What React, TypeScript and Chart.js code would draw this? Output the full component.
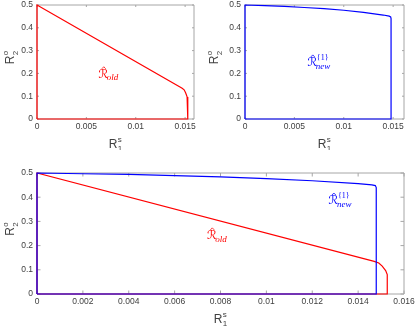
import React, { useEffect, useRef } from "react";
import { Chart, registerables } from "chart.js";
Chart.register(...registerables);

// ---- data ----
const oldX = [0, 0, 0.0147, 0.0149, 0.01505, 0.0152, 0.01527, 0.01527, 0];
const oldY = [0, 0.5, 0.135, 0.128, 0.115, 0.097, 0.08, 0, 0];
const newX = [0, 0, 0.002, 0.004, 0.006, 0.008, 0.01, 0.012, 0.014, 0.0146, 0.01475, 0.01479, 0.01479, 0];
const newY = [0, 0.5, 0.497, 0.494, 0.489, 0.484, 0.477, 0.468, 0.456, 0.451, 0.448, 0.44, 0, 0];

const yTicks = [0, 0.1, 0.2, 0.3, 0.4, 0.5];
const yTickLabels = ["0", "0.1", "0.2", "0.3", "0.4", "0.5"];
const xTicksTop = [0, 0.005, 0.01, 0.015];
const xTickLabelsTop = ["0", "0.005", "0.01", "0.015"];
const xTicksBottom = [0, 0.002, 0.004, 0.006, 0.008, 0.01, 0.012, 0.014, 0.016];
const xTickLabelsBottom = ["0", "0.002", "0.004", "0.006", "0.008", "0.01", "0.012", "0.014", "0.016"];

const RED = "#ff0000";
const BLUE = "#0000ff";
const AXIS = "#a6a6a6";
const TEXT = "#404040";
const SANS = '"Liberation Sans", Arial, Helvetica, sans-serif';

type Series = { xs: number[]; ys: number[]; color: string };
type Ann = { x: number; y: number; color: string; sub: string; sup?: string };

type PanelProps = {
  left: number; top: number; width: number; height: number;
  yAxisW: number; padTop: number; padRight: number; xAxisH: number;
  xMax: number; xTicks: number[]; xLabels: string[];
  series: Series[]; anns: Ann[]; tickLen: number; yTitleX: number;
};

function drawRTitle(ctx: CanvasRenderingContext2D, x: number, y: number, sub: string, sup: string) {
  ctx.font = `12px ${SANS}`;
  const wR = ctx.measureText("R").width;
  ctx.font = `8px ${SANS}`;
  const wS = Math.max(ctx.measureText(sub).width, ctx.measureText(sup).width);
  const total = wR + 0.5 + wS;
  const sx = x - total / 2;
  ctx.fillStyle = TEXT;
  ctx.textAlign = "left";
  ctx.textBaseline = "alphabetic";
  ctx.font = `12px ${SANS}`;
  ctx.fillText("R", sx, y);
  ctx.font = `8px ${SANS}`;
  ctx.fillText(sup, sx + wR + 0.5, y - 6);
  ctx.fillText(sub, sx + wR + 0.5, y + 3.5);
}

function drawAnn(ctx: CanvasRenderingContext2D, px: number, py: number, a: Ann) {
  ctx.fillStyle = a.color;
  ctx.strokeStyle = a.color;
  ctx.textAlign = "left";
  ctx.textBaseline = "alphabetic";
  ctx.font = `12px "DejaVu Sans", serif`;
  const w = ctx.measureText("\u211B").width;
  ctx.fillText("\u211B", px, py);
  ctx.lineWidth = 0.8;
  ctx.beginPath();
  ctx.moveTo(px + w * 0.38, py - 9.2);
  ctx.lineTo(px + w * 0.58, py - 11.2);
  ctx.lineTo(px + w * 0.78, py - 9.2);
  ctx.stroke();
  ctx.font = `italic 9px "Liberation Serif", "Times New Roman", serif`;
  ctx.fillText(a.sub, px + w - 1, py + 2.5);
  if (a.sup) {
    ctx.font = `8px "Liberation Serif", "Times New Roman", serif`;
    ctx.fillText(a.sup, px + w, py - 6.5);
  }
}

function Panel(p: PanelProps) {
  const ref = useRef<HTMLCanvasElement | null>(null);
  useEffect(() => {
    const canvas = ref.current;
    if (!canvas) return;
    const decor = {
      id: "decor",
      beforeDatasetsDraw(chart: any) {
        const ctx = chart.ctx as CanvasRenderingContext2D;
        const { left, right, top, bottom } = chart.chartArea;
        const xs = chart.scales.x;
        const ys = chart.scales.y;
        ctx.save();
        ctx.strokeStyle = AXIS;
        ctx.lineWidth = 1;
        ctx.beginPath();
        ctx.rect(left, top, right - left, bottom - top);
        ctx.stroke();
        ctx.beginPath();
        p.xTicks.forEach((v) => {
          const x = xs.getPixelForValue(v);
          ctx.moveTo(x, bottom); ctx.lineTo(x, bottom - p.tickLen);
          ctx.moveTo(x, top); ctx.lineTo(x, top + p.tickLen);
        });
        yTicks.forEach((v) => {
          const y = ys.getPixelForValue(v);
          ctx.moveTo(left, y); ctx.lineTo(left + p.tickLen, y);
          ctx.moveTo(right, y); ctx.lineTo(right - p.tickLen, y);
        });
        ctx.stroke();
        ctx.restore();
      },
      afterDraw(chart: any) {
        const ctx = chart.ctx as CanvasRenderingContext2D;
        const { left, right, top, bottom } = chart.chartArea;
        ctx.save();
        drawRTitle(ctx, (left + right) / 2, bottom + 28.5, "1", "s");
        ctx.translate(p.yTitleX, (top + bottom) / 2);
        ctx.rotate(-Math.PI / 2);
        drawRTitle(ctx, 4.5, 0, "2", "o");
        ctx.restore();
        ctx.save();
        p.anns.forEach((a) => {
          drawAnn(ctx, chart.scales.x.getPixelForValue(a.x), chart.scales.y.getPixelForValue(a.y), a);
        });
        ctx.restore();
      },
    };
    const chart = new Chart(canvas, {
      type: "scatter",
      data: {
        datasets: p.series.map((s) => ({
          data: s.xs.map((x, i) => ({ x, y: s.ys[i] })),
          showLine: true,
          borderColor: s.color,
          backgroundColor: s.color,
          borderWidth: 1.2,
          pointRadius: 0,
          tension: 0,
          clip: false,
        })),
      },
      options: {
        animation: false,
        responsive: false,
        events: [],
        layout: { padding: { left: 0, top: p.padTop, right: p.padRight, bottom: 0 } },
        plugins: { legend: { display: false }, tooltip: { enabled: false } },
        scales: {
          x: {
            type: "linear",
            min: 0,
            max: p.xMax,
            afterBuildTicks: (s: any) => { s.ticks = p.xTicks.map((v) => ({ value: v })); },
            afterFit: (s: any) => { s.height = p.xAxisH; s.paddingLeft = 0; s.paddingRight = 0; },
            grid: { display: false, drawTicks: false },
            border: { display: false },
            ticks: {
              padding: 3,
              color: TEXT,
              font: { size: 8.5, family: SANS },
              maxRotation: 0,
              autoSkip: false,
              callback: (v: any) => { const i = p.xTicks.findIndex((t) => Math.abs(t - v) < 1e-9); return i >= 0 ? p.xLabels[i] : ""; },
            },
          },
          y: {
            type: "linear",
            min: 0,
            max: 0.5,
            afterBuildTicks: (s: any) => { s.ticks = yTicks.map((v) => ({ value: v })); },
            afterFit: (s: any) => { s.width = p.yAxisW; s.paddingTop = 0; s.paddingBottom = 0; },
            grid: { display: false, drawTicks: false },
            border: { display: false },
            ticks: {
              padding: 4,
              color: TEXT,
              font: { size: 8.5, family: SANS },
              autoSkip: false,
              callback: (v: any) => { const i = yTicks.findIndex((t) => Math.abs(t - v) < 1e-9); return i >= 0 ? yTickLabels[i] : ""; },
            },
          },
        },
      } as any,
      plugins: [decor],
    });
    return () => chart.destroy();
  }, []);
  return (
    <canvas
      ref={ref}
      width={p.width}
      height={p.height}
      style={{ position: "absolute", left: p.left, top: p.top, width: p.width, height: p.height }}
    />
  );
}

export default function App() {
  const oldS: Series = { xs: oldX, ys: oldY, color: RED };
  const newS: Series = { xs: newX, ys: newY, color: BLUE };
  return (
    <div style={{ position: "fixed", left: 0, top: 0, width: 415, height: 331, background: "#fff", overflow: "hidden" }}>
      <Panel left={0} top={0} width={205} height={150} yAxisW={37} padTop={5} padRight={11} xAxisH={31}
        xMax={0.0159} xTicks={xTicksTop} xLabels={xTickLabelsTop} series={[oldS]} tickLen={2} yTitleX={14}
        anns={[{ x: 0.0062, y: 0.18, color: RED, sub: "old" }]} />
      <Panel left={205} top={0} width={210} height={150} yAxisW={40} padTop={5} padRight={11} xAxisH={31}
        xMax={0.0161} xTicks={xTicksTop} xLabels={xTickLabelsTop} series={[newS]} tickLen={2} yTitleX={13}
        anns={[{ x: 0.0063, y: 0.232, color: BLUE, sub: "new", sup: "{1}" }]} />
      <Panel left={0} top={150} width={415} height={181} yAxisW={37} padTop={23} padRight={11} xAxisH={37}
        xMax={0.016} xTicks={xTicksBottom} xLabels={xTickLabelsBottom} series={[newS, oldS]} tickLen={3.5} yTitleX={14}
        anns={[
          { x: 0.0074, y: 0.227, color: RED, sub: "old" },
          { x: 0.0127, y: 0.371, color: BLUE, sub: "new", sup: "{1}" },
        ]} />
    </div>
  );
}
